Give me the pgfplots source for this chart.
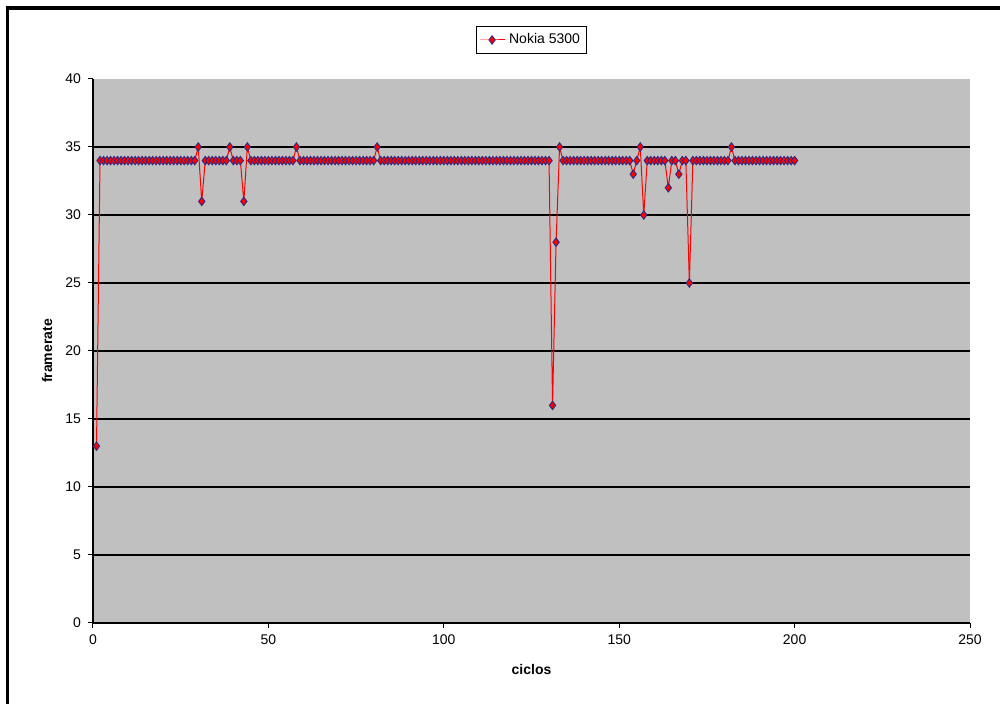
\documentclass[border=0pt]{standalone}
\usepackage{fontspec}
\setmainfont{Liberation Sans}
\usepackage{pgfplots}
\pgfplotsset{compat=1.18}
\definecolor{plotgray}{RGB}{192,192,192}
\definecolor{mred}{RGB}{255,0,0}
\definecolor{mnavy}{RGB}{50,40,130}
\begin{document}
\begin{tikzpicture}[x=1pt,y=1pt]
\useasboundingbox (-46.5,-40.5) rectangle (453.5,311.5);
\draw[line width=1.6pt] (-42.75,-41) -- (-42.75,307.5) -- (454,307.5);
\begin{axis}[
  at={(0,0)}, anchor=south west,
  scale only axis, width=438.5pt, height=272pt,
  xmin=0, xmax=250, ymin=0, ymax=40,
  axis background/.style={fill=plotgray},
  axis x line*=bottom, axis y line*=left,
  axis line style={-, black, line width=0.6pt},
  tick align=outside, major tick length=2.5pt,
  tick style={black, line width=0.5pt},
  xtick={0,50,...,250}, ytick={0,5,...,35},
  extra y ticks={40}, extra y tick style={grid=none},
  ymajorgrids, grid style={black, line width=0.75pt},
  tick label style={font=\fontsize{7}{8}\selectfont},
  /pgf/number format/assume math mode=true,
  every axis x label/.style={at={(axis description cs:0.5,0)}, yshift=-23.5pt, anchor=center},
  every axis y label/.style={at={(axis description cs:0,0.5)}, xshift=-23pt, rotate=90, anchor=center},
  label style={font=\fontsize{7}{8}\selectfont\bfseries},
  xlabel={ciclos}, ylabel={framerate},
  legend style={at={(0.5,1.0717)}, anchor=center, draw=black, fill=white,
    font=\fontsize{7}{8}\selectfont, inner sep=1.5pt, line width=0.5pt},
  legend cell align=left,
  legend image code/.code={
    \draw[mark repeat=2,mark phase=2] plot coordinates {(0cm,0cm) (0.22cm,0cm) (0.44cm,0cm)};
  },
]
\addplot[color=mred, line width=0.5pt, mark=diamond*, mark size=2.1pt,
  mark options={fill=mred, draw=mnavy, line width=0.45pt}] coordinates {
(1,13)(2,34)(3,34)(4,34)(5,34)(6,34)(7,34)(8,34)(9,34)(10,34)
(11,34)(12,34)(13,34)(14,34)(15,34)(16,34)(17,34)(18,34)(19,34)(20,34)
(21,34)(22,34)(23,34)(24,34)(25,34)(26,34)(27,34)(28,34)(29,34)(30,35)
(31,31)(32,34)(33,34)(34,34)(35,34)(36,34)(37,34)(38,34)(39,35)(40,34)
(41,34)(42,34)(43,31)(44,35)(45,34)(46,34)(47,34)(48,34)(49,34)(50,34)
(51,34)(52,34)(53,34)(54,34)(55,34)(56,34)(57,34)(58,35)(59,34)(60,34)
(61,34)(62,34)(63,34)(64,34)(65,34)(66,34)(67,34)(68,34)(69,34)(70,34)
(71,34)(72,34)(73,34)(74,34)(75,34)(76,34)(77,34)(78,34)(79,34)(80,34)
(81,35)(82,34)(83,34)(84,34)(85,34)(86,34)(87,34)(88,34)(89,34)(90,34)
(91,34)(92,34)(93,34)(94,34)(95,34)(96,34)(97,34)(98,34)(99,34)(100,34)
(101,34)(102,34)(103,34)(104,34)(105,34)(106,34)(107,34)(108,34)(109,34)(110,34)
(111,34)(112,34)(113,34)(114,34)(115,34)(116,34)(117,34)(118,34)(119,34)(120,34)
(121,34)(122,34)(123,34)(124,34)(125,34)(126,34)(127,34)(128,34)(129,34)(130,34)
(131,16)(132,28)(133,35)(134,34)(135,34)(136,34)(137,34)(138,34)(139,34)(140,34)
(141,34)(142,34)(143,34)(144,34)(145,34)(146,34)(147,34)(148,34)(149,34)(150,34)
(151,34)(152,34)(153,34)(154,33)(155,34)(156,35)(157,30)(158,34)(159,34)(160,34)
(161,34)(162,34)(163,34)(164,32)(165,34)(166,34)(167,33)(168,34)(169,34)(170,25)
(171,34)(172,34)(173,34)(174,34)(175,34)(176,34)(177,34)(178,34)(179,34)(180,34)
(181,34)(182,35)(183,34)(184,34)(185,34)(186,34)(187,34)(188,34)(189,34)(190,34)
(191,34)(192,34)(193,34)(194,34)(195,34)(196,34)(197,34)(198,34)(199,34)(200,34)
};
\addlegendentry{Nokia 5300}
\end{axis}
\end{tikzpicture}
\end{document}
